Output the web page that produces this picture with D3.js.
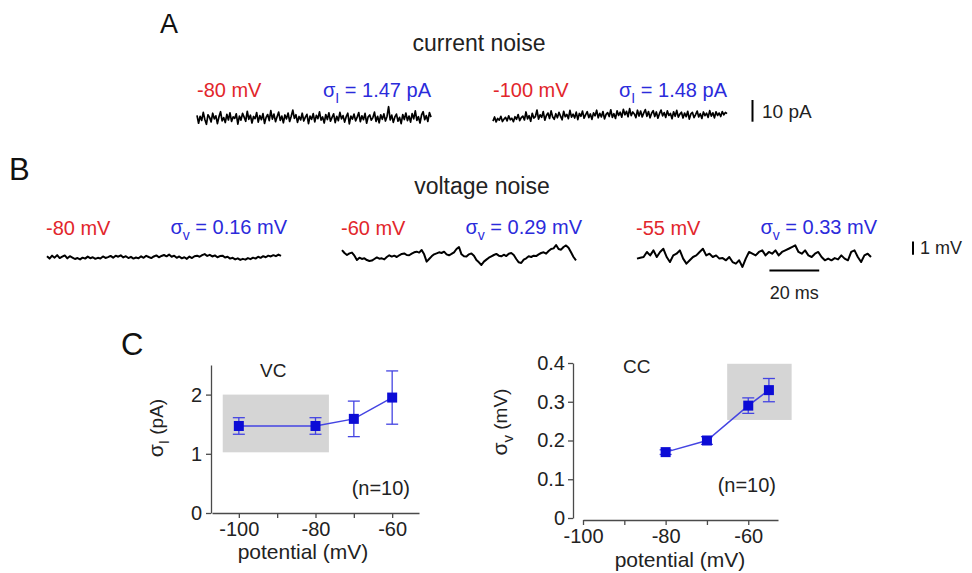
<!DOCTYPE html>
<html>
<head>
<meta charset="utf-8">
<script src="https://cdn.jsdelivr.net/npm/d3@7"></script>
<style>
  body { margin: 0; background: #fff; }
  svg { display: block; font-family: "Liberation Sans", Arial, sans-serif; }
</style>
</head>
<body>
<svg id="fig" width="972" height="573"></svg>
<script>
// values

// A: current noise (pA, relative to baseline)
var currentHolding = ["-80 mV", "-100 mV"];
var currentSigma = ["1.47", "1.48"];
var currentTrace80 = [1.2,-2.4,0.8,-1.1,2.6,-0.7,-2.9,1.5,0.3,-1.8,2.2,-0.4,1.0,-2.6,0.6,2.9,-1.3,0.2,-2.1,1.7,
  -0.9,2.4,-1.6,0.5,-0.2,1.9,-2.8,0.9,-1.0,2.1,0.4,-1.5,3.1,-0.6,1.3,-2.3,0.7,-0.3,2.5,-1.9,
  1.1,-0.8,2.0,-2.5,0.3,1.6,-1.2,3.4,-0.5,1.8,-1.7,0.6,2.7,-1.1,0.9,-2.2,1.4,-0.4,2.3,-1.6,
  0.8,3.6,-0.2,1.5,-2.0,0.7,-0.9,2.2,-1.4,0.4,1.7,-2.6,0.9,-0.6,2.0,-1.8,1.2,-0.3,2.8,-1.0,
  0.5,-2.3,1.6,-0.7,2.4,-1.5,0.3,1.9,-2.1,0.8,-1.2,2.6,-0.4,1.1,-1.9,0.6,2.2,-2.7,0.9,-0.5,
  1.8,-1.3,0.4,2.5,-1.7,1.0,-0.8,2.1,-2.4,0.6,1.4,-1.0,0.2,2.7,-1.6,0.8,-2.2,1.5,-0.6,1.9,
  -1.4,0.7,5.2,-0.9,1.3,-2.0,0.5,1.8,-1.5,0.3,-2.6,1.6,-0.7,2.3,-1.2,0.9,-1.9,2.0,-0.4,3.3,
  -1.1,0.6,-2.3,1.4,2.9,-0.8,1.1,-1.6,2.5,0.4];
var currentTrace100 = [-2.8,-0.9,-3.2,-1.6,-2.4,-0.6,-3.0,-1.9,-1.1,-2.7,-0.4,-2.2,-1.5,-3.1,-0.8,-2.0,0.2,-2.6,-1.2,-0.5,
  -2.3,1.4,-1.8,-0.3,-2.9,0.8,-1.4,-0.7,2.3,-1.9,0.1,-1.1,1.6,-2.4,-0.2,0.9,-1.6,1.9,-0.9,-2.0,
  0.6,-1.3,1.2,-0.5,-2.2,1.7,-0.8,0.3,-1.7,2.1,-1.0,0.4,-1.4,1.3,-2.1,0.7,-0.6,1.8,-1.5,0.2,
  1.5,-1.2,0.5,-2.0,1.0,-0.4,2.2,-1.3,0.8,-0.9,1.6,-1.8,0.3,1.1,-0.7,2.4,-1.1,0.6,-1.6,1.9,
  -0.2,1.3,-1.0,2.6,0.1,1.7,-0.8,2.9,-0.3,1.4,0.5,-1.2,2.2,-0.5,1.8,-0.9,1.0,2.5,-0.6,1.6,
  -1.3,0.8,2.0,-0.7,1.4,-1.5,0.6,2.3,-0.4,1.1,-1.1,1.9,-0.2,0.7,-1.7,1.5,-0.6,2.1,-1.0,0.4,
  1.3,-1.4,0.9,-0.8,1.7,-1.9,0.5,1.2,-1.2,0.2,1.8,-0.9,0.6,-1.6,1.4,-0.3,0.8,-1.1,2.0,-0.5,
  1.0,-1.3,1.5,-0.2,0.9,-0.7,1.6,0.1,1.2,0.6];

// B: voltage noise (mV, relative to baseline)
var voltageHolding = ["-80 mV", "-60 mV", "-55 mV"];
var voltageSigma = ["0.16", "0.29", "0.33"];
var voltageTrace80 = [0.05,-0.12,0.10,-0.05,0.14,-0.08,0.02,0.12,-0.10,0.06,-0.04,-0.15,-0.08,-0.18,-0.05,-0.12,0.03,-0.09,-0.02,-0.14,-0.06,-0.11,0.04,-0.07,-0.01,0.08,-0.05,0.10,0.02,0.13,-0.03,0.06,-0.08,0.01,-0.12,-0.04,-0.10,0.05,-0.06,0.09,0.00,-0.08,0.04,0.12,-0.02,0.08,0.15,0.05,0.18,0.02,0.10,-0.06,0.04,-0.10,-0.02,-0.14,0.03,-0.08,0.06,0.10,0.02,0.14,0.22,0.08,0.16,0.04,0.12,-0.02,0.07,0.10,-0.04,0.02,-0.12,-0.06,-0.18,-0.10,-0.22,-0.14,-0.20,-0.08,-0.16,-0.05,-0.12,0.02,-0.06,0.06,-0.02,0.10,0.04,0.14,0.06,0.18,0.08];
var voltageTrace60 = [0.37,0.15,0.0,0.12,0.18,-0.05,-0.37,-0.2,-0.3,-0.25,-0.38,-0.45,-0.42,-0.3,-0.18,-0.28,-0.25,-0.33,-0.15,-0.02,-0.12,-0.05,-0.15,-0.02,0.08,0.12,0.0,-0.02,0.1,0.2,0.25,0.18,0.38,0.05,-0.5,-0.3,-0.1,0.05,0.12,0.2,0.15,0.25,0.05,-0.02,0.08,0.2,0.45,0.6,0.05,-0.1,-0.12,0.05,0.12,-0.05,-0.38,-0.55,-0.75,-0.5,-0.35,-0.2,-0.1,0.0,0.08,-0.05,-0.1,0.02,-0.08,0.1,0.15,0.0,-0.3,-0.55,-0.6,-0.35,-0.25,-0.1,-0.15,-0.05,-0.08,0.05,0.15,0.2,0.1,0.3,0.45,0.5,0.75,0.45,0.4,0.6,0.72,0.55,0.2,-0.15,-0.4];
var voltageTrace55 = [-0.12,-0.05,0.0,0.38,0.12,0.5,0.0,0.38,0.62,0.0,-0.38,0.12,0.25,0.5,-0.12,-0.5,-0.25,0.0,0.12,0.38,0.62,0.12,0.25,0.0,0.12,-0.12,-0.08,-0.25,0.0,-0.38,-0.5,-0.25,-0.75,-0.12,0.38,0.25,0.12,0.38,0.5,0.12,0.38,0.25,0.5,0.12,0.38,0.5,0.62,0.75,0.88,0.38,0.25,0.5,0.12,0.0,0.25,0.38,0.0,-0.25,-0.12,-0.25,-0.08,-0.18,0.12,-0.12,-0.25,0.38,0.5,0.0,-0.38,0.12,0.25,0.0];

var traceDuration = 94; // ms shown per trace

// C: summary
var vcPotential = [-100, -80, -70, -60];
var vcSigma = [1.47, 1.47, 1.59, 1.95];
var vcError = [0.14, 0.14, 0.30, 0.45];
var vcShadeX = [-104.2, -76.5];
var vcShadeY = [1.025, 2.0];
var vcYTicks = [0, 1, 2];

var ccPotential = [-80, -70, -60, -55];
var ccSigma = [0.17, 0.20, 0.29, 0.33];
var ccError = [0.006, 0.01, 0.02, 0.03];
var ccShadeX = [-65.1, -49.5];
var ccShadeY = [0.253, 0.398];
var ccYTicks = [0, 0.1, 0.2, 0.3, 0.4];

var xMajorTicks = [-100, -80, -60];
var xMinorTicks = [-90, -70];

var RED = "#e2262b", BLUE = "#2b2bdb", MARK = "#0c0cd6", LINE = "#4444e2", AXIS = "#4a4a4a", TXT = "#222";

var svg = d3.select("#fig");

function txt(x, y, s, size, color, anchor) {
  return svg.append("text").attr("x", x).attr("y", y).text(s)
    .attr("font-size", size).attr("fill", color || TXT)
    .attr("text-anchor", anchor || "start");
}

// sigma label with subscript, right aligned
function sigmaLabel(xEnd, y, sub, rest) {
  var t = svg.append("text").attr("x", xEnd).attr("y", y)
    .attr("font-size", 20).attr("fill", BLUE).attr("text-anchor", "end");
  t.append("tspan").text("σ");
  t.append("tspan").text(sub).attr("font-size", 14).attr("dy", 6);
  t.append("tspan").text(" = " + rest).attr("dy", -6);
}

function drawTrace(values, x0, width, yCenter, pxPerUnit, sw) {
  var x = d3.scaleLinear().domain([0, traceDuration]).range([x0, x0 + width]);
  var y = d3.scaleLinear().domain([-1, 1]).range([yCenter + pxPerUnit, yCenter - pxPerUnit]);
  var step = traceDuration / (values.length - 1);
  var line = d3.line().x(function(d, i) { return x(i * step); }).y(function(d) { return y(d); });
  svg.append("path").datum(values).attr("d", line)
    .attr("fill", "none").attr("stroke", "#000").attr("stroke-width", sw)
    .attr("stroke-linejoin", "round");
  return { x: x, y: y };
}

// ---------- A ----------
txt(160, 33, "A", 27, "#111");
txt(479, 51, "current noise", 23, TXT, "middle");

var pA = 21.7 / 10; // px per pA
var aStarts = [197, 493];
var aCenters = [118, 115];
[currentTrace80, currentTrace100].forEach(function(tr, i) {
  drawTrace(tr, aStarts[i], 234, aCenters[i], pA, 1.7);
  txt(aStarts[i], 97, currentHolding[i], 20, RED);
  sigmaLabel(aStarts[i] + 234, 97, "I", currentSigma[i] + " pA");
});
// 10 pA scale bar
svg.append("line").attr("x1", 752.5).attr("x2", 752.5).attr("y1", 100).attr("y2", 100 + 10 * pA)
  .attr("stroke", "#000").attr("stroke-width", 2);
txt(762, 118, "10 pA", 19, TXT);

// ---------- B ----------
txt(9, 180, "B", 31, "#111");
txt(482, 194, "voltage noise", 23, TXT, "middle");

var mV = 13.3; // px per mV
var bStarts = [47, 342, 637];
var bCenters = [257, 255, 257];
var bScales = [];
[voltageTrace80, voltageTrace60, voltageTrace55].forEach(function(tr, i) {
  bScales.push(drawTrace(tr, bStarts[i], 234, bCenters[i], mV, 2));
  txt(bStarts[i] - 1, 235, voltageHolding[i], 20, RED);
  sigmaLabel(bStarts[i] + 240, 234, "v", voltageSigma[i] + " mV");
});
// 1 mV bar
svg.append("line").attr("x1", 913).attr("x2", 913).attr("y1", 241.5).attr("y2", 241.5 + mV)
  .attr("stroke", "#000").attr("stroke-width", 2);
txt(920, 254, "1 mV", 18, TXT);
// 20 ms bar, drawn with the time scale of the last trace
var tx = bScales[2].x;
var barStart = tx(53.2);
svg.append("line").attr("x1", barStart).attr("x2", barStart + (tx(20) - tx(0))).attr("y1", 270.5).attr("y2", 270.5)
  .attr("stroke", "#000").attr("stroke-width", 2);
txt(barStart + (tx(20) - tx(0)) / 2, 299, "20 ms", 18, TXT, "middle");

// ---------- C ----------
txt(121, 355, "C", 31, "#111");

function summary(opt) {
  var x = d3.scaleLinear().domain(opt.xDomain).range(opt.xRange);
  var y = d3.scaleLinear().domain(opt.yDomain).range(opt.yRange);
  var g = svg.append("g");

  g.append("rect")
    .attr("x", x(opt.shadeX[0])).attr("width", x(opt.shadeX[1]) - x(opt.shadeX[0]))
    .attr("y", y(opt.shadeY[1])).attr("height", y(opt.shadeY[0]) - y(opt.shadeY[1]))
    .attr("fill", "#d5d5d5");

  // x axis
  var xa = g.append("g").attr("transform", "translate(0," + opt.xAxisY + ")")
    .call(d3.axisBottom(x).tickValues(xMajorTicks.concat(xMinorTicks))
      .tickSize(5).tickSizeOuter(0).tickPadding(opt.xPad)
      .tickFormat(function(d) { return xMajorTicks.indexOf(d) >= 0 ? d : ""; }));
  // y axis
  var ya = g.append("g").attr("transform", "translate(" + opt.yAxisX + ",0)")
    .call(d3.axisLeft(y).tickValues(opt.yTicks).tickSize(5).tickSizeOuter(0).tickPadding(opt.yPad)
      .tickFormat(function(d) { return d === 0 ? "0" : d3.format("")(d); }));
  [xa, ya].forEach(function(a) {
    a.attr("font-family", null).attr("font-size", null);
    a.selectAll("path,line").attr("stroke", AXIS).attr("stroke-width", 1.3);
    a.selectAll("text").attr("font-size", 20).attr("fill", TXT);
  });

  // connecting line
  var pts = opt.xs.map(function(v, i) { return [v, opt.ys[i], opt.es[i]]; });
  g.append("path").datum(pts)
    .attr("d", d3.line().x(function(d) { return x(d[0]); }).y(function(d) { return y(d[1]); }))
    .attr("fill", "none").attr("stroke", LINE).attr("stroke-width", 1.5);

  // error bars
  var eb = g.selectAll(".eb").data(pts).enter().append("g");
  eb.append("line")
    .attr("x1", function(d) { return x(d[0]); }).attr("x2", function(d) { return x(d[0]); })
    .attr("y1", function(d) { return y(d[1] - d[2]); }).attr("y2", function(d) { return y(d[1] + d[2]); });
  eb.append("line")
    .attr("x1", function(d) { return x(d[0]) - 6; }).attr("x2", function(d) { return x(d[0]) + 6; })
    .attr("y1", function(d) { return y(d[1] + d[2]); }).attr("y2", function(d) { return y(d[1] + d[2]); });
  eb.append("line")
    .attr("x1", function(d) { return x(d[0]) - 6; }).attr("x2", function(d) { return x(d[0]) + 6; })
    .attr("y1", function(d) { return y(d[1] - d[2]); }).attr("y2", function(d) { return y(d[1] - d[2]); });
  eb.selectAll("line").attr("stroke", LINE).attr("stroke-width", 1.3);

  // markers
  g.selectAll(".mk").data(pts).enter().append("rect")
    .attr("x", function(d) { return x(d[0]) - 5; }).attr("y", function(d) { return y(d[1]) - 5; })
    .attr("width", 10).attr("height", 10).attr("fill", MARK);

  // labels
  txt(opt.tagX, opt.tagY, opt.tag, 19, TXT);
  txt(opt.nX, opt.nY, "(n=10)", 20, TXT, "end");
  txt(opt.titleX, opt.titleY, "potential (mV)", 21, TXT, "middle");

  var yl = svg.append("text").attr("font-size", 21).attr("fill", TXT)
    .attr("text-anchor", "middle")
    .attr("transform", "translate(" + opt.ylX + "," + opt.ylY + ") rotate(-90)");
  yl.append("tspan").text("σ");
  yl.append("tspan").text(opt.ylSub).attr("font-size", 15).attr("dy", 6);
  yl.append("tspan").text("  " + opt.ylUnit).attr("dy", -6).attr("font-size", 19);
}

summary({
  xDomain: [-107, -53], xRange: [212, 419],
  yDomain: [0, 2.5], yRange: [513, 365],
  xAxisY: 513, yAxisX: 211, xPad: 4, yPad: 4,
  yTicks: vcYTicks, shadeX: vcShadeX, shadeY: vcShadeY,
  xs: vcPotential, ys: vcSigma, es: vcError,
  tag: "VC", tagX: 260, tagY: 377,
  nX: 410, nY: 495,
  titleX: 303, titleY: 559,
  ylX: 163, ylY: 428, ylSub: "I", ylUnit: "(pA)"
});

summary({
  xDomain: [-100, -52.8], xRange: [583, 778],
  yDomain: [0, 0.4], yRange: [518, 363],
  xAxisY: 520, yAxisX: 573, xPad: 4, yPad: 3,
  yTicks: ccYTicks, shadeX: ccShadeX, shadeY: ccShadeY,
  xs: ccPotential, ys: ccSigma, es: ccError,
  tag: "CC", tagX: 623, tagY: 373,
  nX: 776, nY: 492,
  titleX: 680, titleY: 567,
  ylX: 507, ylY: 422, ylSub: "v", ylUnit: "(mV)"
});
</script>
</body>
</html>
